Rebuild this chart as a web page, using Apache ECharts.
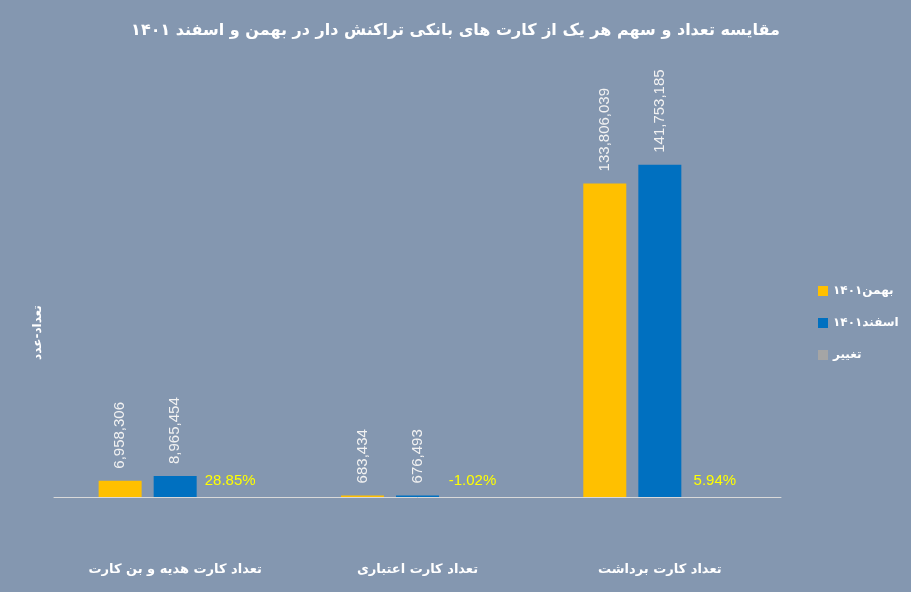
<!DOCTYPE html>
<html>
<head>
<meta charset="utf-8">
<script src="https://cdn.jsdelivr.net/npm/echarts@6/dist/echarts.min.js"></script>
<style>
  html, body { margin: 0; padding: 0; background: #8497b0; }
  #chart { width: 911px; height: 592px; }
</style>
</head>
<body>
<div id="chart"></div>
<script>
// داده ها
var categories = ['تعداد کارت هدیه و بن کارت', 'تعداد کارت اعتباری', 'تعداد کارت برداشت'];
var bahman = [6958306, 683434, 133806039];
var esfand = [8965454, 676493, 141753185];
var change = [0.2885, -0.0102, 0.0594];

var seriesNames = ['بهمن۱۴۰۱', 'اسفند۱۴۰۱', 'تغییر'];

var chart = echarts.init(document.getElementById('chart'));

var numLabel = {
    show: true,
    position: 'top',
    rotate: 90,
    align: 'left',
    verticalAlign: 'middle',
    distance: 12,
    color: '#f2f2f2',
    fontFamily: 'Liberation Sans',
    fontSize: 15,
    formatter: function (p) { return p.value.toLocaleString('en-US'); }
};

var option = {
    backgroundColor: '#8497b0',
    title: {
        text: 'مقایسه تعداد و سهم هر یک از کارت های بانکی تراکنش دار در بهمن و اسفند ۱۴۰۱',
        left: 'center',
        top: 18,
        textStyle: { color: '#ffffff', fontFamily: 'DejaVu Sans', fontWeight: 'bold', fontSize: 16 }
    },
    legend: {
        orient: 'vertical',
        left: 813,
        top: 280,
        itemWidth: 10,
        itemHeight: 10,
        itemGap: 20,
        icon: 'rect',
        textStyle: { color: '#ffffff', fontFamily: 'DejaVu Sans', fontSize: 12, fontWeight: 'bold' },
        data: seriesNames
    },
    grid: { left: 54, right: 130, top: 122, bottom: 95 },
    xAxis: {
        type: 'category',
        data: categories,
        axisLine: { lineStyle: { color: '#d9d9d9', width: 1 } },
        axisTick: { show: false },
        axisLabel: {
            margin: 66,
            color: '#ffffff',
            fontFamily: 'DejaVu Sans',
            fontWeight: 'bold',
            fontSize: 13
        }
    },
    yAxis: {
        type: 'value',
        min: 0,
        max: 160000000,
        axisLabel: { show: false },
        axisLine: { show: false },
        axisTick: { show: false },
        splitLine: { show: false },
        name: 'تعداد-عدد',
        nameLocation: 'middle',
        nameGap: 10,
        nameTextStyle: {
            color: '#ffffff',
            fontFamily: 'DejaVu Sans',
            fontWeight: 'bold',
            fontSize: 12,
            padding: [0, 46, 0, 0]
        }
    },
    series: [
        {
            name: seriesNames[0],
            type: 'bar',
            data: bahman,
            barWidth: 43,
            barGap: '28%',
            itemStyle: { color: '#ffc000' },
            label: numLabel
        },
        {
            name: seriesNames[1],
            type: 'bar',
            data: esfand,
            barWidth: 43,
            barGap: '28%',
            itemStyle: { color: '#0070c0' },
            label: numLabel
        },
        {
            name: seriesNames[2],
            type: 'bar',
            data: change,
            barWidth: 43,
            barGap: '28%',
            itemStyle: { color: '#a5a5a5' },
            label: {
                show: true,
                position: 'top',
                distance: 9,
                color: '#ffff00',
                fontFamily: 'Liberation Sans',
                fontSize: 15,
                formatter: function (p) { return (p.value * 100).toFixed(2) + '%'; }
            }
        }
    ]
};

chart.setOption(option);
</script>
</body>
</html>
